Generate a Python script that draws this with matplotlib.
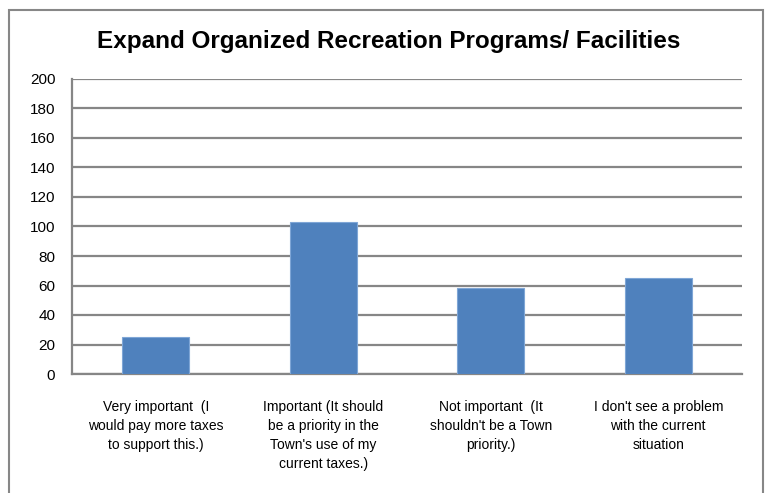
import matplotlib

matplotlib.use("Agg")
import matplotlib.pyplot as plt
from matplotlib.patches import Rectangle

# values
categories = [
    "Very important  (I\nwould pay more taxes\nto support this.)",
    "Important (It should\nbe a priority in the\nTown's use of my\ncurrent taxes.)",
    "Not important  (It\nshouldn't be a Town\npriority.)",
    "I don't see a problem\nwith the current\nsituation",
]
counts = [25, 103, 58, 65]
y_ticks = [0, 20, 40, 60, 80, 100, 120, 140, 160, 180, 200]
title = "Expand Organized Recreation Programs/ Facilities"

plt.rcParams["font.family"] = ["Liberation Sans", "DejaVu Sans"]

W, H = 765, 493
fig = plt.figure(figsize=(W / 100, H / 100), dpi=100)
ax = fig.add_axes([72 / W, (H - 374) / H, (742 - 72) / W, (374 - 79) / H])

grid_col = "#868686"
x = range(len(categories))
ax.bar(x, counts, width=0.4, color="#4F81BD", edgecolor="#7FA6D6",
       linewidth=0.8, zorder=3)

ax.set_xlim(-0.5, len(categories) - 0.5)
ax.set_ylim(0, 200)
ax.set_yticks(y_ticks)
ax.set_yticklabels([str(t) for t in y_ticks], fontsize=11)
ax.set_xticks(list(x))
ax.set_xticklabels(categories, fontsize=10, linespacing=1.45)
ax.tick_params(axis="both", length=0, colors="black")
ax.tick_params(axis="y", pad=12)
ax.tick_params(axis="x", pad=19)

ax.grid(axis="y", color=grid_col, linewidth=1.6, zorder=0)
ax.set_axisbelow(True)
for side in ("top", "right"):
    ax.spines[side].set_visible(False)
for side in ("left", "bottom"):
    ax.spines[side].set_color(grid_col)
    ax.spines[side].set_linewidth(1.6)

fig.text(389 / W, 1 - 48 / H, title, ha="center", va="baseline",
         fontsize=17.5, fontweight="bold")

# chart-area border (bottom edge sits below the image)
fig.patches.append(Rectangle((9 / W, -0.05), (763 - 9) / W, (H - 10) / H + 0.05,
                             transform=fig.transFigure, fill=False,
                             edgecolor="#878787", linewidth=1.5))

fig.savefig("out.png", dpi=100)
